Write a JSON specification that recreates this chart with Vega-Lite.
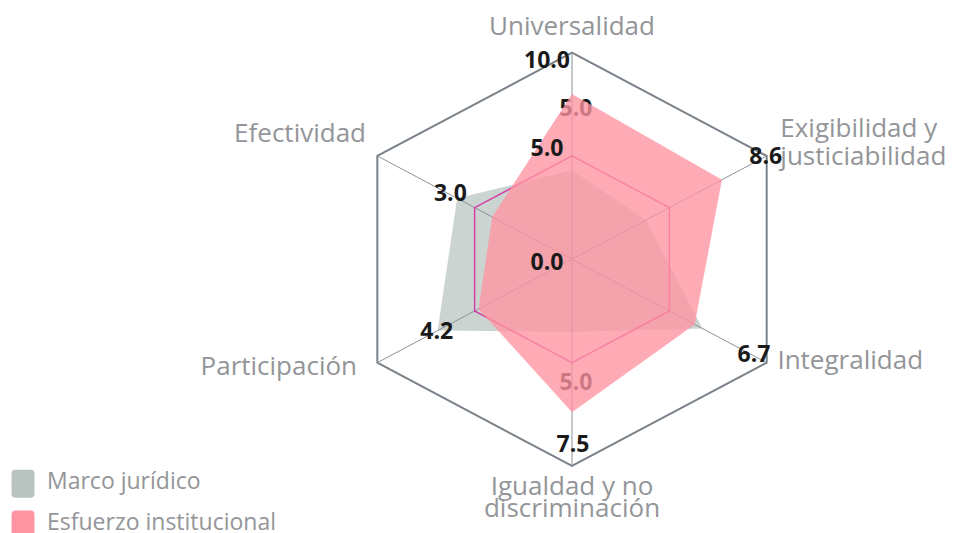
{
  "$schema": "https://vega.github.io/schema/vega-lite/v6.json",
  "width": 961,
  "height": 533,
  "autosize": "none",
  "padding": 0,
  "config": {"view": {"stroke": null}},
  "datasets": {
    "series": [
      {"serie": "Marco jurídico", "eje": "Universalidad", "k": 0, "valor": 4.3},
      {"serie": "Marco jurídico", "eje": "Exigibilidad y justiciabilidad", "k": 1, "valor": 3.8},
      {"serie": "Marco jurídico", "eje": "Integralidad", "k": 2, "valor": 6.7},
      {"serie": "Marco jurídico", "eje": "Igualdad y no discriminación", "k": 3, "valor": 3.5},
      {"serie": "Marco jurídico", "eje": "Participación", "k": 4, "valor": 6.9},
      {"serie": "Marco jurídico", "eje": "Efectividad", "k": 5, "valor": 5.9},
      {"serie": "Esfuerzo institucional", "eje": "Universalidad", "k": 0, "valor": 8.0},
      {"serie": "Esfuerzo institucional", "eje": "Exigibilidad y justiciabilidad", "k": 1, "valor": 7.7},
      {"serie": "Esfuerzo institucional", "eje": "Integralidad", "k": 2, "valor": 6.3},
      {"serie": "Esfuerzo institucional", "eje": "Igualdad y no discriminación", "k": 3, "valor": 7.4},
      {"serie": "Esfuerzo institucional", "eje": "Participación", "k": 4, "valor": 4.8},
      {"serie": "Esfuerzo institucional", "eje": "Efectividad", "k": 5, "valor": 4.1}
    ],
    "ejes": [
      {"k": 0, "nombre": "Universalidad"},
      {"k": 1, "nombre": "Exigibilidad y\njusticiabilidad"},
      {"k": 2, "nombre": "Integralidad"},
      {"k": 3, "nombre": "Igualdad y no\ndiscriminación"},
      {"k": 4, "nombre": "Participación"},
      {"k": 5, "nombre": "Efectividad"}
    ],
    "valores": [
      {"texto": "10.0", "k": 0, "pos": 9.6, "capa": "tick"},
      {"texto": "5.0", "k": 0, "pos": 5.33, "capa": "tick"},
      {"texto": "0.0", "k": 0, "pos": -0.18, "capa": "tick"},
      {"texto": "8.6", "k": 1, "pos": 9.9, "capa": "dato"},
      {"texto": "6.7", "k": 2, "pos": 9.3, "capa": "dato"},
      {"texto": "7.5", "k": 3, "pos": 9.0, "capa": "dato"},
      {"texto": "4.2", "k": 4, "pos": 7.0, "capa": "dato"},
      {"texto": "3.0", "k": 5, "pos": 6.3, "capa": "dato"},
      {"texto": "5.0", "k": 0, "pos": 7.25, "capa": "tenue"},
      {"texto": "5.0", "k": 3, "pos": 6.0, "capa": "tenue"}
    ]
  },
  "encoding": {
    "x": {"field": "x", "type": "quantitative", "scale": {"domain": [-25.445, 17.304], "nice": false, "zero": false}, "axis": null},
    "y": {"field": "y", "type": "quantitative", "scale": {"domain": [-13.242, 12.545], "nice": false, "zero": false}, "axis": null}
  },
  "layer": [
    {
      "data": {"name": "ejes"},
      "transform": [
        {"calculate": "10*sin(datum.k*PI/3)", "as": "x"},
        {"calculate": "10*cos(datum.k*PI/3)", "as": "y"}
      ],
      "mark": {"type": "line", "interpolate": "linear-closed", "stroke": "#7a8188", "strokeWidth": 2},
      "encoding": {"order": {"field": "k", "type": "quantitative"}}
    },
    {
      "data": {"name": "series"},
      "transform": [
        {"filter": "datum.serie === 'Marco jurídico'"},
        {"calculate": "datum.valor*sin(datum.k*PI/3)", "as": "x"},
        {"calculate": "datum.valor*cos(datum.k*PI/3)", "as": "y"}
      ],
      "mark": {"type": "line", "filled": true, "fillOpacity": 0.72, "interpolate": "linear-closed", "strokeWidth": 0},
      "encoding": {
        "order": {"field": "k", "type": "quantitative"},
        "color": {
          "field": "serie", "type": "nominal",
          "scale": {"domain": ["Marco jurídico", "Esfuerzo institucional"], "range": ["#b9c3c0", "#ff94a2"]},
          "legend": {
            "title": null, "orient": "none", "legendX": 9, "legendY": 469.7, "padding": 0,
            "symbolType": "M-0.57,-1H0.57A0.25,0.25 0 0 1 0.82,-0.75V0.75A0.25,0.25 0 0 1 0.57,1H-0.57A0.25,0.25 0 0 1 -0.82,0.75V-0.75A0.25,0.25 0 0 1 -0.57,-1Z",
            "symbolSize": 784, "rowPadding": 12.8, "labelOffset": 10,
            "labelFont": "Open Sans", "labelFontSize": 23, "labelColor": "#939598", "labelLimit": 400,
            "symbolStrokeWidth": 0, "symbolOpacity": 1,
            "encode": {
              "symbols": {"update": {
                "fill": {"signal": "datum.value === 'Marco jurídico' ? '#b9c3c0' : '#ffa7b4'"},
                "fillOpacity": {"value": 1}, "opacity": {"value": 1},
                "stroke": {"value": "transparent"}, "strokeWidth": {"value": 0}
              }},
              "labels": {"update": {"dy": {"value": -2}}}
            }
          }
        }
      }
    },
    {
      "data": {"name": "ejes"},
      "transform": [
        {"calculate": "0", "as": "x"},
        {"calculate": "0", "as": "y"},
        {"calculate": "10*sin(datum.k*PI/3)", "as": "xe"},
        {"calculate": "10*cos(datum.k*PI/3)", "as": "ye"}
      ],
      "mark": {"type": "rule", "stroke": "#8d9399", "strokeWidth": 1},
      "encoding": {"x2": {"field": "xe"}, "y2": {"field": "ye"}}
    },
    {
      "data": {"name": "ejes"},
      "transform": [
        {"calculate": "5*sin(datum.k*PI/3)", "as": "x"},
        {"calculate": "5*cos(datum.k*PI/3)", "as": "y"}
      ],
      "mark": {"type": "line", "interpolate": "linear-closed", "stroke": "#d63fa6", "strokeWidth": 1.5},
      "encoding": {"order": {"field": "k", "type": "quantitative"}}
    },
    {
      "data": {"name": "valores"},
      "transform": [
        {"filter": "datum.capa === 'tenue'"},
        {"calculate": "datum.pos*sin(datum.k*PI/3)", "as": "x"},
        {"calculate": "datum.pos*cos(datum.k*PI/3)", "as": "y"}
      ],
      "mark": {"type": "text", "font": "Open Sans", "fontWeight": "bold", "fontSize": 23, "fill": "#1a1a1a", "align": "center", "baseline": "middle", "dx": 4},
      "encoding": {"text": {"field": "texto"}}
    },
    {
      "data": {"name": "series"},
      "transform": [
        {"filter": "datum.serie === 'Esfuerzo institucional'"},
        {"calculate": "datum.valor*sin(datum.k*PI/3)", "as": "x"},
        {"calculate": "datum.valor*cos(datum.k*PI/3)", "as": "y"}
      ],
      "mark": {"type": "line", "filled": true, "fillOpacity": 0.78, "interpolate": "linear-closed", "strokeWidth": 0},
      "encoding": {
        "order": {"field": "k", "type": "quantitative"},
        "color": {
          "field": "serie", "type": "nominal",
          "scale": {"domain": ["Marco jurídico", "Esfuerzo institucional"], "range": ["#b9c3c0", "#ff94a2"]},
          "legend": {
            "title": null, "orient": "none", "legendX": 9, "legendY": 469.7, "padding": 0,
            "symbolType": "M-0.57,-1H0.57A0.25,0.25 0 0 1 0.82,-0.75V0.75A0.25,0.25 0 0 1 0.57,1H-0.57A0.25,0.25 0 0 1 -0.82,0.75V-0.75A0.25,0.25 0 0 1 -0.57,-1Z",
            "symbolSize": 784, "rowPadding": 12.8, "labelOffset": 10,
            "labelFont": "Open Sans", "labelFontSize": 23, "labelColor": "#939598", "labelLimit": 400,
            "symbolStrokeWidth": 0, "symbolOpacity": 1,
            "encode": {
              "symbols": {"update": {
                "fill": {"signal": "datum.value === 'Marco jurídico' ? '#b9c3c0' : '#ffa7b4'"},
                "fillOpacity": {"value": 1}, "opacity": {"value": 1},
                "stroke": {"value": "transparent"}, "strokeWidth": {"value": 0}
              }},
              "labels": {"update": {"dy": {"value": -2}}}
            }
          }
        }
      }
    },
    {
      "data": {"name": "valores"},
      "transform": [
        {"filter": "datum.capa === 'tick'"},
        {"calculate": "datum.pos*sin(datum.k*PI/3)", "as": "x"},
        {"calculate": "datum.pos*cos(datum.k*PI/3)", "as": "y"}
      ],
      "mark": {"type": "text", "font": "Open Sans", "fontWeight": "bold", "fontSize": 23, "fill": "#1a1a1a", "align": "center", "baseline": "middle", "dx": -25},
      "encoding": {"text": {"field": "texto"}}
    },
    {
      "data": {"name": "valores"},
      "transform": [
        {"filter": "datum.capa === 'dato'"},
        {"calculate": "datum.pos*sin(datum.k*PI/3)", "as": "x"},
        {"calculate": "datum.pos*cos(datum.k*PI/3)", "as": "y"}
      ],
      "mark": {"type": "text", "font": "Open Sans", "fontWeight": "bold", "fontSize": 23, "fill": "#1a1a1a", "align": "center", "baseline": "middle", "dx": 1},
      "encoding": {"text": {"field": "texto"}}
    },
    {
      "data": {"name": "ejes"},
      "transform": [
        {"filter": "datum.k === 0"},
        {"calculate": "11.4*sin(datum.k*PI/3)", "as": "x"},
        {"calculate": "11.4*cos(datum.k*PI/3)", "as": "y"}
      ],
      "mark": {"type": "text", "font": "Open Sans", "fontSize": 26, "fill": "#939598", "align": "center", "baseline": "middle", "dy": 3},
      "encoding": {"text": {"field": "nombre"}}
    },
    {
      "data": {"name": "ejes"},
      "transform": [
        {"filter": "datum.k === 3"},
        {"calculate": "11.4*sin(datum.k*PI/3)", "as": "x"},
        {"calculate": "11.4*cos(datum.k*PI/3)", "as": "y"}
      ],
      "mark": {"type": "text", "font": "Open Sans", "fontSize": 26, "fill": "#939598", "align": "center", "baseline": "middle", "dy": -8, "lineBreak": "\n", "lineHeight": 22},
      "encoding": {"text": {"field": "nombre"}}
    },
    {
      "data": {"name": "ejes"},
      "transform": [
        {"filter": "datum.k === 1"},
        {"calculate": "10.7*sin(datum.k*PI/3)", "as": "x"},
        {"calculate": "10.7*cos(datum.k*PI/3)", "as": "y"}
      ],
      "mark": {"type": "text", "font": "Open Sans", "fontSize": 26, "fill": "#939598", "align": "left", "baseline": "middle", "dy": -20, "lineBreak": "\n", "lineHeight": 28},
      "encoding": {"text": {"field": "nombre"}}
    },
    {
      "data": {"name": "ejes"},
      "transform": [
        {"filter": "datum.k === 2"},
        {"calculate": "10.55*sin(datum.k*PI/3)", "as": "x"},
        {"calculate": "10.55*cos(datum.k*PI/3)", "as": "y"}
      ],
      "mark": {"type": "text", "font": "Open Sans", "fontSize": 26, "fill": "#939598", "align": "left", "baseline": "middle", "dy": -7},
      "encoding": {"text": {"field": "nombre"}}
    },
    {
      "data": {"name": "ejes"},
      "transform": [
        {"filter": "datum.k === 4"},
        {"calculate": "11.04*sin(datum.k*PI/3)", "as": "x"},
        {"calculate": "11.04*cos(datum.k*PI/3)", "as": "y"}
      ],
      "mark": {"type": "text", "font": "Open Sans", "fontSize": 26, "fill": "#939598", "align": "right", "baseline": "middle", "dy": -6.4},
      "encoding": {"text": {"field": "nombre"}}
    },
    {
      "data": {"name": "ejes"},
      "transform": [
        {"filter": "datum.k === 5"},
        {"calculate": "10.58*sin(datum.k*PI/3)", "as": "x"},
        {"calculate": "10.58*cos(datum.k*PI/3)", "as": "y"}
      ],
      "mark": {"type": "text", "font": "Open Sans", "fontSize": 26, "fill": "#939598", "align": "right", "baseline": "middle", "dy": -16},
      "encoding": {"text": {"field": "nombre"}}
    }
  ]
}
